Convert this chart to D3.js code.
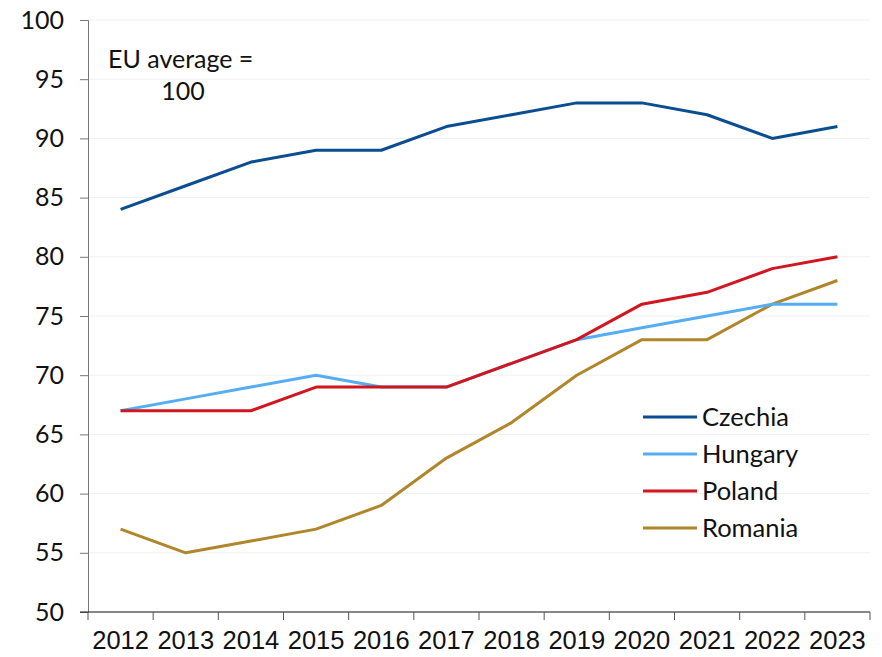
<!DOCTYPE html>
<html><head><meta charset="utf-8">
<script src="https://cdn.jsdelivr.net/npm/d3@7"></script>
<style>body{margin:0;background:#fff}svg{display:block;font-family:"Open Sans",sans-serif}</style>
</head><body><svg id="c" width="882" height="657"></svg>
<script>
const years = ["2012","2013","2014","2015","2016","2017","2018","2019","2020","2021","2022","2023"];
const czechia = [84,86,88,89,89,91,92,93,93,92,90,91];
const hungary = [67,68,69,70,69,69,71,73,74,75,76,76];
const poland  = [67,67,67,69,69,69,71,73,76,77,79,80];
const romania = [57,55,56,57,59,63,66,70,73,73,76,78];
const yTicks = [50,55,60,65,70,75,80,85,90,95,100];
const seriesNames = ["Czechia","Hungary","Poland","Romania"];
const seriesColors = ["#0A4D90","#55AEF5","#D0161F","#B0862A"];
const seriesData = [czechia, hungary, poland, romania];

const svg = d3.select("#c");
const m = {l:88, r:870, t:20, b:612};
const x = d3.scaleBand().domain(years).range([m.l, m.r]).padding(0);
const y = d3.scaleLinear().domain([50,100]).range([m.b, m.t]);

// gridlines
svg.append("g").selectAll("line").data(yTicks.filter(d=>d>50)).join("line")
  .attr("x1", m.l).attr("x2", m.r).attr("y1", d=>y(d)).attr("y2", d=>y(d))
  .attr("stroke", "#f0f0f0").attr("stroke-width", 1);

// y axis
const ya = svg.append("g").attr("transform", `translate(${m.l},0)`)
  .call(d3.axisLeft(y).tickValues(yTicks).tickSize(8).tickPadding(16));
ya.select(".domain").attr("stroke", "#777");
ya.selectAll(".tick line").attr("stroke", "#777");
ya.selectAll("text").attr("font-size", 25).attr("fill", "#111").attr("font-family", "Lato, sans-serif");

// x axis
const xa = svg.append("g").attr("transform", `translate(0,${m.b})`)
  .call(d3.axisBottom(x).tickSize(0).tickPadding(19));
xa.select(".domain").remove();
xa.selectAll("text").attr("font-size", 25.5).attr("fill", "#111").attr("dy", "0.71em");
svg.append("line").attr("x1", m.l-8).attr("x2", m.r).attr("y1", m.b).attr("y2", m.b).attr("stroke", "#111");
svg.append("g").selectAll("line").data(d3.range(years.length+1)).join("line")
  .attr("x1", i=>m.l + i*x.bandwidth()).attr("x2", i=>m.l + i*x.bandwidth())
  .attr("y1", m.b).attr("y2", m.b+8).attr("stroke", "#555");

// lines
const line = d3.line().x((d,i)=>x(years[i]) + x.bandwidth()/2).y(d=>y(d));
[3,1,2,0].forEach(k=>{
  svg.append("path").datum(seriesData[k]).attr("d", line)
    .attr("fill","none").attr("stroke", seriesColors[k]).attr("stroke-width", 3)
    .attr("stroke-linejoin","round");
});

// annotation
svg.append("text").attr("x", 108).attr("y", 68).attr("font-size", 25).attr("font-family","Lato, sans-serif").attr("fill","#111").text("EU average =");
svg.append("text").attr("x", 183).attr("y", 100).attr("font-size", 25).attr("font-family","Lato, sans-serif").attr("text-anchor","middle").attr("fill","#111").text("100");

// legend
const lg = svg.append("g");
seriesNames.forEach((n,i)=>{
  const yy = 417 + i*37;
  lg.append("line").attr("x1", 643).attr("x2", 697).attr("y1", yy).attr("y2", yy)
    .attr("stroke", seriesColors[i]).attr("stroke-width", 3);
  lg.append("text").attr("x", 702).attr("y", yy).attr("dy","0.35em").attr("font-size", 25.5)
    .attr("font-family","Lato, sans-serif").attr("fill","#111").text(n);
});
</script></body></html>
